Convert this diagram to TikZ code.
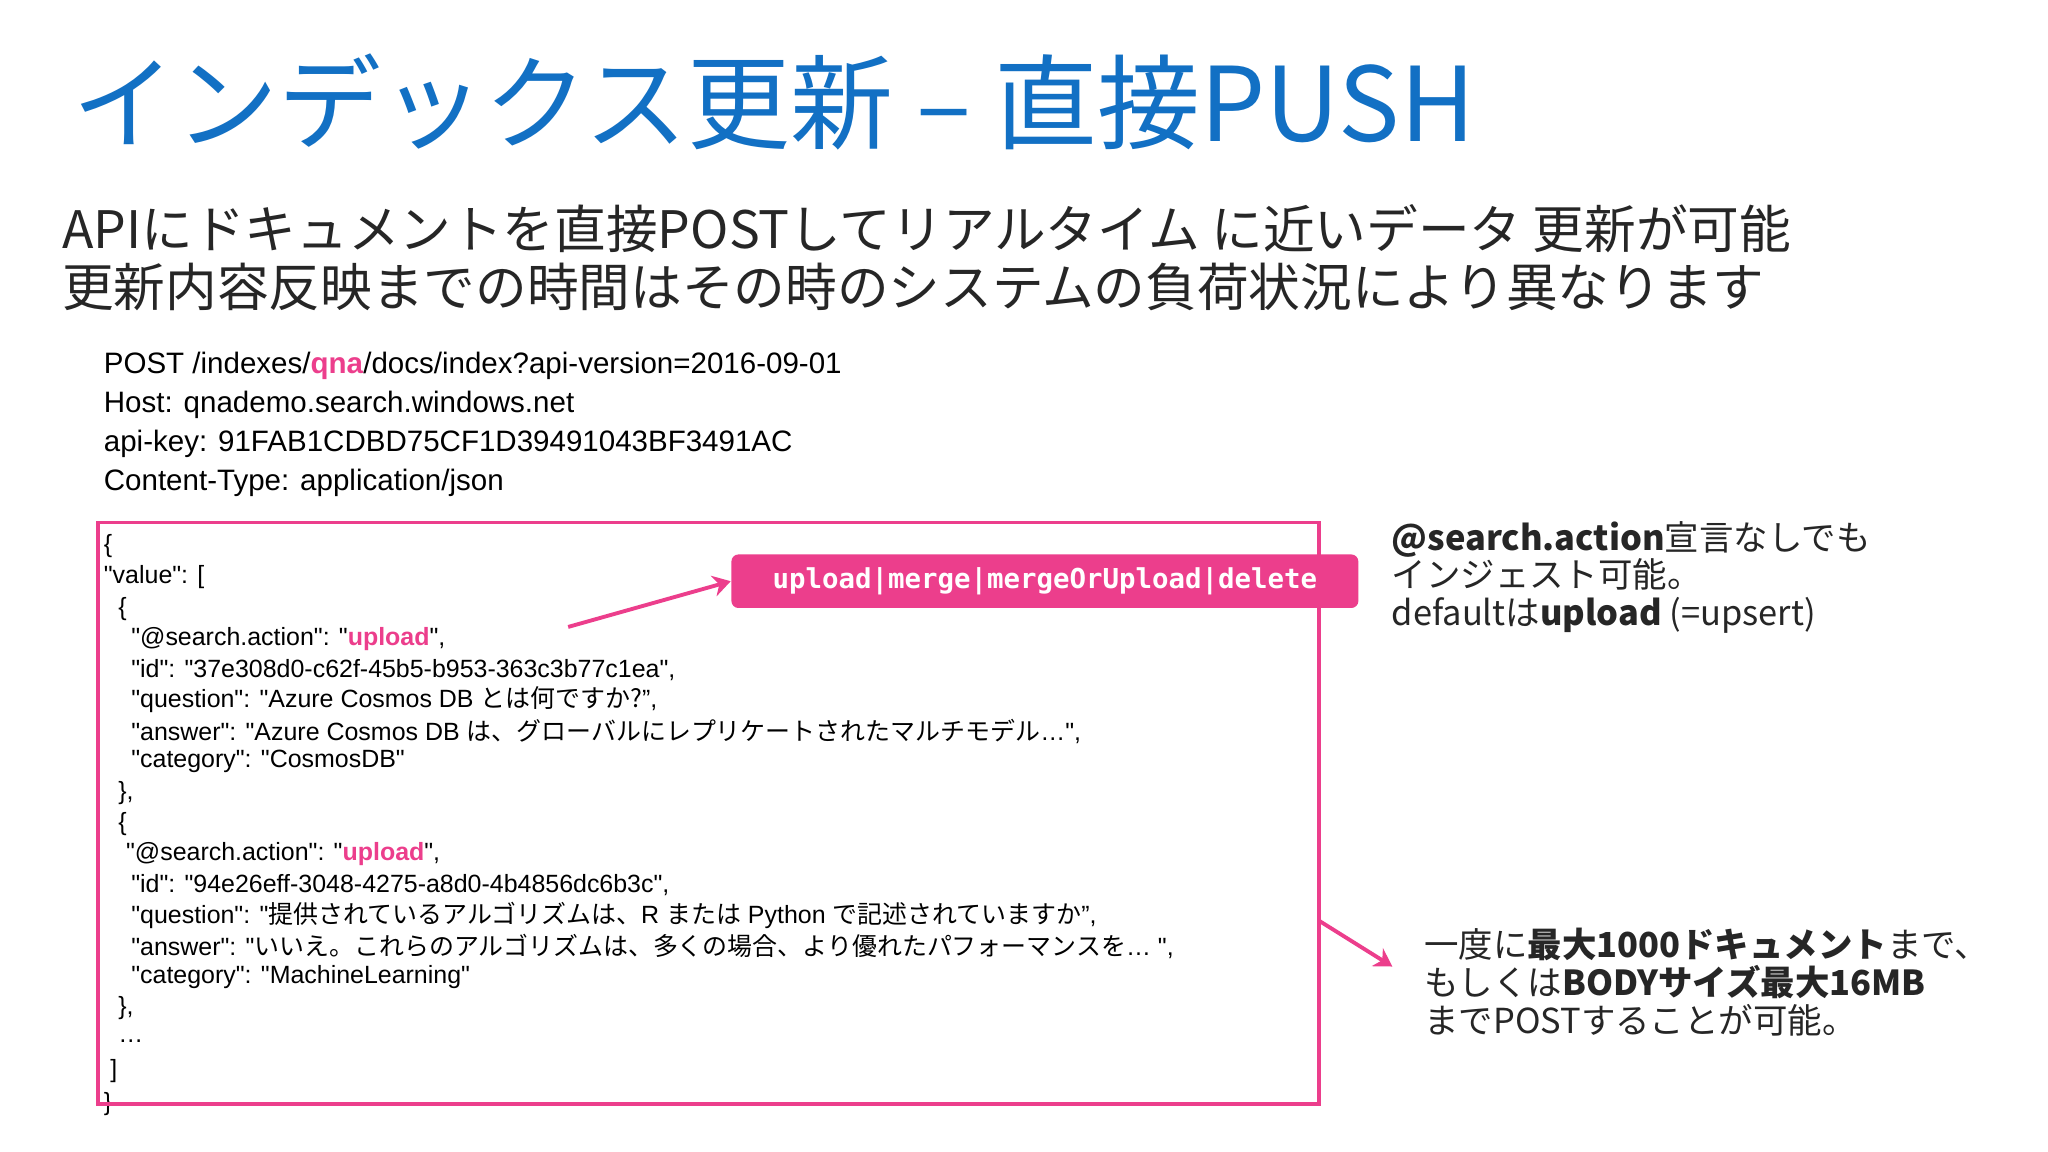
\documentclass[tikz,border=0pt]{standalone}
\usepackage{fontspec}
\setmainfont{Liberation Sans}
\newfontfamily\codef{Liberation Sans}
\newfontfamily\jp{Noto Sans CJK JP}
\newfontfamily\monob{DejaVu Sans Mono}
\usetikzlibrary{arrows.meta}
\definecolor{pinkc}{RGB}{236,62,140}
\definecolor{titleblue}{RGB}{18,112,196}
\tikzset{
  title/.style={anchor=west,inner sep=0pt,font=\jp\fontsize{29.3}{30}\selectfont,text=titleblue},
  sub/.style={anchor=west,inner sep=0pt,font=\jp\fontsize{14.7}{15}\selectfont,text=black!85},
  hdr/.style={anchor=west,inner sep=0pt,font=\codef\fontsize{8.4}{9}\selectfont},
  code/.style={anchor=west,inner sep=0pt,font=\codef\fontsize{7.1}{8}\selectfont},
  note/.style={anchor=west,inner sep=0pt,align=left,font=\jp\fontsize{9.8}{10.7}\selectfont,text=black!85},
  pk/.style={draw=pinkc,line width=1.1pt},
  parrow/.style={pinkc,line width=1.1pt,-{Stealth[length=5pt,width=6pt]}}
}
\newcommand{\pkb}[1]{\textcolor{pinkc}{\textbf{#1}}}
\begin{document}
\begin{tikzpicture}[x=0.01306cm,y=-0.01306cm]
\useasboundingbox (0,0) rectangle (1568,882);
\fill[white] (0,0) rectangle (1568,882);
\node[title] (t) at (55,78) {インデックス更新 – 直接PUSH};
\node[sub] (s1) at (47,175) {APIにドキュメントを直接POSTしてリアルタイム に近いデータ 更新が可能};
\node[sub] (s2) at (47,220) {更新内容反映までの時間はその時のシステムの負荷状況により異なります};
\node[hdr] (h1) at (79,280) {POST /indexes/\pkb{qna}/docs/index?api-version=2016-09-01};
\node[hdr] (h2) at (79,310) {Host: qnademo.search.windows.net};
\node[hdr] (h3) at (79,340) {api-key: 91FAB1CDBD75CF1D39491043BF3491AC};
\node[hdr] (h4) at (79,370) {Content-Type: application/json};
\node[code] (c1) at (79,418) {\{};
\node[code] (c2) at (79,442) {"value": [};
\node[code] (c3) at (90,466) {\{};
\node[code] (c4) at (100,489) {"@search.action": "\pkb{upload}",};
\node[code] (c5) at (100,513) {"id": "37e308d0-c62f-45b5-b953-363c3b77c1ea",};
\node[code] (c6) at (100,536) {"question": "Azure Cosmos DB {\jp とは何ですか?}”,};
\node[code] (c7) at (100,560) {"answer": "Azure Cosmos DB {\jp は、グローバルにレプリケートされたマルチモデル}…",};
\node[code] (c8) at (100,583) {"category": "CosmosDB"};
\node[code] (c9) at (90,607) {\},};
\node[code] (c10) at (90,631) {\{};
\node[code] (c11) at (96,654) {"@search.action": "\pkb{upload}",};
\node[code] (c12) at (100,678) {"id": "94e26eff-3048-4275-a8d0-4b4856dc6b3c",};
\node[code] (c13) at (100,701) {"question": "{\jp 提供されているアルゴリズムは、}R {\jp または} Python {\jp で記述されていますか}”,};
\node[code] (c14) at (100,725) {"answer": "{\jp いいえ。これらのアルゴリズムは、多くの場合、より優れたパフォーマンスを}… ",};
\node[code] (c15) at (100,748) {"category": "MachineLearning"};
\node[code] (c16) at (90,772) {\},};
\node[code] (c17) at (90,797) {…};
\node[code] (c18) at (84,820) {]};
\node[code] (c19) at (79,845) {\}};
\draw[pk] (75,400) rectangle (1010,845);
\node[fill=pinkc,rounded corners=2pt,inner sep=0pt,minimum width=480*0.01306cm,minimum height=41*0.01306cm,text=white,font=\monob\bfseries\fontsize{7.8}{9}\selectfont] (lab) at (800,445) {upload|merge|mergeOrUpload|delete};
\coordinate (a1s) at (435,480);
\draw[parrow] (a1s) -- (lab.west);
\node[note] (n1) at (1065,442) {\textbf{@search.action}宣言なしでも\\インジェスト可能。\\defaultは\textbf{upload} (=upsert)};
\node[note] (n2) at (1090,752) {一度に\textbf{最大1000ドキュメント}まで、\\もしくは\textbf{BODYサイズ最大16MB}\\までPOSTすることが可能。};
\coordinate (a2s) at (1010,705);
\draw[parrow] (a2s) -- (1066,740);
\end{tikzpicture}
\end{document}
